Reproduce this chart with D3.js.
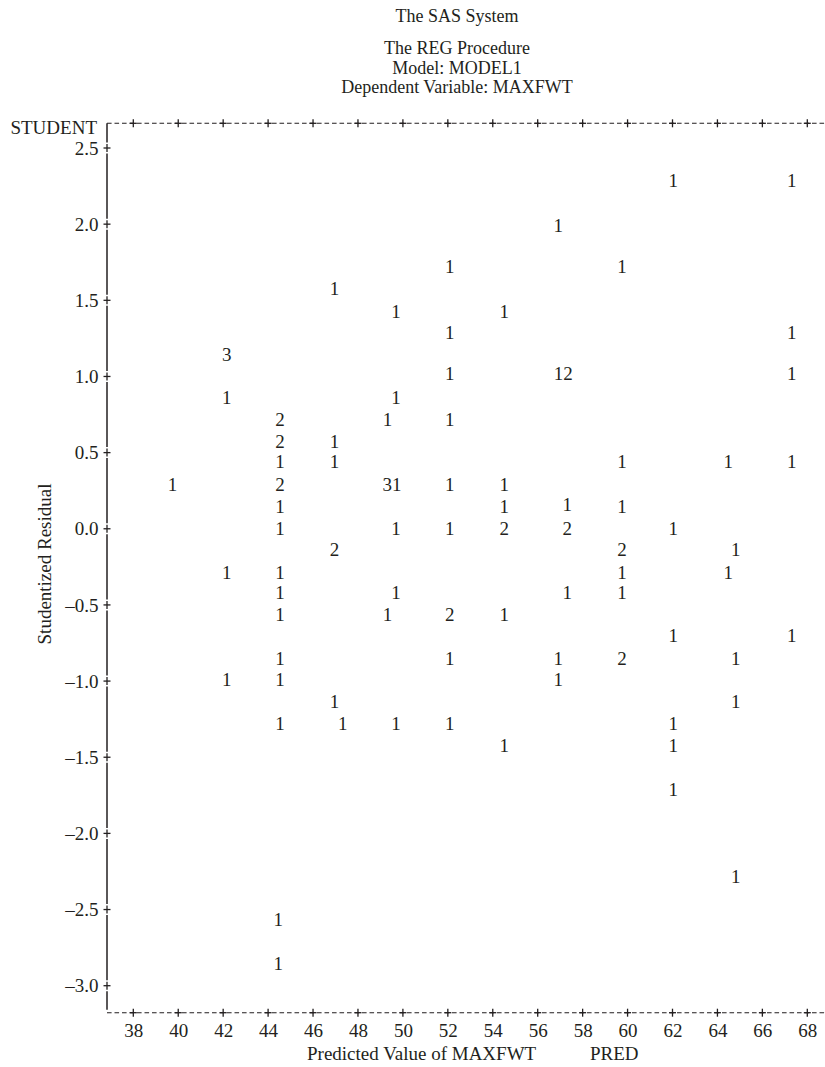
<!DOCTYPE html>
<html>
<head>
<meta charset="utf-8">
<script src="https://cdn.jsdelivr.net/npm/d3@7"></script>
<style>
  html, body { margin: 0; padding: 0; background: #fff; }
  svg { display: block; }
  text { font-family: "Liberation Serif", "Times New Roman", serif; fill: #231f20; }
</style>
</head>
<body>
<svg id="chart" width="825" height="1067"></svg>
<script>
// ---- data ----
const titleLines = ["The SAS System", "The REG Procedure", "Model: MODEL1", "Dependent Variable: MAXFWT"];
const xTicks = [38, 40, 42, 44, 46, 48, 50, 52, 54, 56, 58, 60, 62, 64, 66, 68];
const yTicks = [2.5, 2.0, 1.5, 1.0, 0.5, 0.0, -0.5, -1.0, -1.5, -2.0, -2.5, -3.0];
const xTitle = "Predicted Value of MAXFWT";
const xVarName = "PRED";
const yTitle = "Studentized Residual";
const yVarName = "STUDENT";

// predicted value, studentized residual, plotted count symbol
const pred = [
  62.03, 67.31,
  56.91,
  52.09, 59.75,
  46.95,
  49.69, 54.51,
  52.09, 67.31,
  42.16,
  52.09, 57.14, 67.31,
  42.16, 49.69,
  44.53, 49.32, 52.09,
  44.53, 46.95,
  44.53, 46.95, 59.75, 64.48, 67.31,
  39.75, 44.53, 49.51, 52.09, 54.51,
  44.53, 54.51, 57.31, 59.75,
  44.53, 49.69, 52.09, 54.51, 57.31, 62.03,
  46.95, 59.75, 64.82,
  42.16, 44.53, 59.75, 64.48,
  44.53, 49.69, 57.31, 59.75,
  44.53, 49.32, 52.09, 54.51,
  62.03, 67.31,
  44.53, 52.09, 56.91, 59.75, 64.82,
  42.16, 44.53, 56.91,
  46.95, 64.82,
  44.53, 47.32, 49.69, 52.09, 62.03,
  54.51, 62.03,
  62.03,
  64.82,
  44.45,
  44.45
];
const resid = [
  2.29, 2.29,
  1.99,
  1.72, 1.72,
  1.58,
  1.43, 1.43,
  1.29, 1.29,
  1.145,
  1.02, 1.02, 1.02,
  0.86, 0.86,
  0.72, 0.72, 0.72,
  0.576, 0.576,
  0.44, 0.44, 0.44, 0.44, 0.44,
  0.29, 0.29, 0.29, 0.29, 0.29,
  0.15, 0.15, 0.16, 0.15,
  0.0, 0.0, 0.0, 0.0, 0.0, 0.0,
  -0.135, -0.135, -0.135,
  -0.284, -0.284, -0.284, -0.284,
  -0.42, -0.42, -0.42, -0.42,
  -0.56, -0.56, -0.56, -0.56,
  -0.70, -0.70,
  -0.85, -0.85, -0.85, -0.85, -0.85,
  -0.99, -0.99, -0.99,
  -1.13, -1.13,
  -1.28, -1.28, -1.28, -1.28, -1.28,
  -1.42, -1.42,
  -1.71,
  -2.285,
  -2.565,
  -2.85
];
const counts = [
  "1", "1",
  "1",
  "1", "1",
  "1",
  "1", "1",
  "1", "1",
  "3",
  "1", "12", "1",
  "1", "1",
  "2", "1", "1",
  "2", "1",
  "1", "1", "1", "1", "1",
  "1", "2", "31", "1", "1",
  "1", "1", "1", "1",
  "1", "1", "1", "2", "2", "1",
  "2", "2", "1",
  "1", "1", "1", "1",
  "1", "1", "1", "1",
  "1", "1", "2", "1",
  "1", "1",
  "1", "1", "1", "2", "1",
  "1", "1", "1",
  "1", "1",
  "1", "1", "1", "1", "1",
  "1", "1",
  "1",
  "1",
  "1",
  "1"
];

// ---- layout ----
const svg = d3.select("#chart");
const FS = 19;
const axisX = 107;          // left axis line
const topY = 123.3;         // top dashed frame
const botY = 1012.7;        // bottom dashed frame
const rightX = 825;

const x = d3.scaleLinear().domain([38, 68]).range([133.3, 807.3]);
const y = d3.scaleLinear().domain([2.5, -3.0]).range([148, 985.7]);

const ink = "#231f20";

// titles
svg.selectAll("text.title").data(titleLines).join("text")
  .attr("class", "title")
  .attr("x", 457)
  .attr("y", (d, i) => i === 0 ? 22 : 54 + (i - 1) * 19.7)
  .attr("text-anchor", "middle")
  .attr("font-size", 18)
  .text(d => d);

// dashed frame lines (top & bottom)
[topY, botY].forEach(yy => {
  svg.append("line")
    .attr("x1", axisX).attr("x2", rightX)
    .attr("y1", yy).attr("y2", yy)
    .attr("stroke", ink).attr("stroke-width", 1.1)
    .attr("stroke-dasharray", "4.6 2.9");
  // "+" marks at x ticks
  svg.append("g").selectAll("line").data(xTicks).join("line")
    .attr("x1", d => x(d)).attr("x2", d => x(d))
    .attr("y1", yy - 4).attr("y2", yy + 4)
    .attr("stroke", ink).attr("stroke-width", 1.3);
  svg.append("g").selectAll("line").data(xTicks).join("line")
    .attr("x1", d => x(d) - 3.5).attr("x2", d => x(d) + 3.5)
    .attr("y1", yy).attr("y2", yy)
    .attr("stroke", ink).attr("stroke-width", 1.3);
});

// left solid axis with small gaps around "+" ticks
const stops = [topY].concat(yTicks.map(v => y(v))).concat([botY - 3]);
for (let i = 0; i < stops.length - 1; i++) {
  const a = stops[i] + (i === 0 ? 0 : 5.5);
  const b = stops[i + 1] - (i === stops.length - 2 ? 0 : 5.5);
  svg.append("line")
    .attr("x1", axisX).attr("x2", axisX)
    .attr("y1", a).attr("y2", b)
    .attr("stroke", ink).attr("stroke-width", 1.5);
}
svg.append("g").selectAll("line").data(yTicks).join("line")
  .attr("x1", axisX - 3.5).attr("x2", axisX + 3.5)
  .attr("y1", d => y(d)).attr("y2", d => y(d))
  .attr("stroke", ink).attr("stroke-width", 1.3);
svg.append("g").selectAll("line").data(yTicks).join("line")
  .attr("x1", axisX).attr("x2", axisX)
  .attr("y1", d => y(d) - 4).attr("y2", d => y(d) + 4)
  .attr("stroke", ink).attr("stroke-width", 1.3);

// y axis tick labels through d3 axis
const fmt = v => d3.format(".1f")(v).replace("\u2212", "\u2013").replace("-", "\u2013");
const yAxis = svg.append("g")
  .attr("transform", `translate(${axisX},0)`)
  .call(d3.axisLeft(y).tickValues(yTicks).tickFormat(fmt).tickSize(0).tickPadding(8.5));
yAxis.select(".domain").remove();
yAxis.selectAll("text").attr("font-size", FS).attr("font-family", null).attr("fill", ink);
yAxis.attr("font-family", null).attr("font-size", null);

// x axis tick labels through d3 axis
const xAxis = svg.append("g")
  .attr("transform", `translate(0,${botY})`)
  .call(d3.axisBottom(x).tickValues(xTicks).tickFormat(d3.format("d")).tickSize(0).tickPadding(11));
xAxis.select(".domain").remove();
xAxis.selectAll("text").attr("font-size", FS).attr("fill", ink);
xAxis.attr("font-family", null).attr("font-size", null);

// variable name at top-left
svg.append("text")
  .attr("x", 97).attr("y", 134)
  .attr("text-anchor", "end")
  .attr("font-size", FS)
  .text(yVarName);

// axis titles
svg.append("text")
  .attr("x", 307).attr("y", 1060)
  .attr("font-size", FS)
  .text(xTitle);
svg.append("text")
  .attr("x", 590).attr("y", 1060)
  .attr("font-size", FS)
  .text(xVarName);
svg.append("text")
  .attr("transform", "translate(51,564) rotate(-90)")
  .attr("text-anchor", "middle")
  .attr("font-size", FS)
  .text(yTitle);

// plotted symbols (counts)
const pts = pred.map((p, i) => ({ p, r: resid[i], c: counts[i] }));
svg.append("g").selectAll("text").data(pts).join("text")
  .attr("x", d => x(d.p))
  .attr("y", d => y(d.r))
  .attr("dy", "0.35em")
  .attr("text-anchor", "middle")
  .attr("font-size", FS)
  .text(d => d.c);
</script>
</body>
</html>
